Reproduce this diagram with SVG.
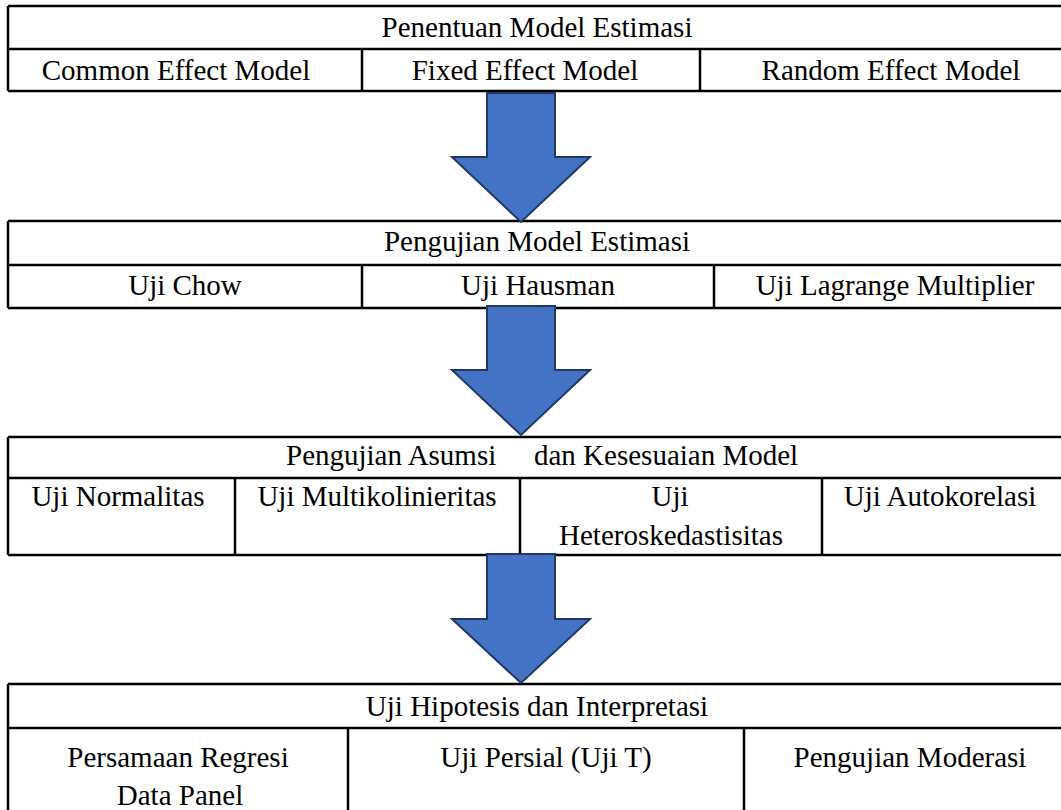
<svg xmlns="http://www.w3.org/2000/svg" width="1061" height="810" viewBox="0 0 1061 810">
<style>
.b{fill:none;stroke:#000;stroke-width:2.5}
.t{font-family:"Liberation Serif","Times New Roman",serif;font-size:29px;fill:#000;text-anchor:middle}
.a{fill:#4472C4;stroke:#1F3864;stroke-width:2;stroke-linejoin:miter}
</style>
<rect width="1061" height="810" fill="#fff"/>
<g id="table1">
<path class="b" d="M8,6H1066M8,49H1066M8,91H1066M8,6V91M362,49V91M700,49V91"/>
<text class="t" x="537" y="37">Penentuan Model Estimasi</text>
<text class="t" x="176" y="80">Common Effect Model</text>
<text class="t" x="525" y="80">Fixed Effect Model</text>
<text class="t" x="891" y="80">Random Effect Model</text>
</g>
<g id="table2">
<path class="b" d="M8,221H1066M8,265H1066M8,308H1066M8,221V308M362,265V308M714,265V308"/>
<text class="t" x="537" y="251">Pengujian Model Estimasi</text>
<text class="t" x="185" y="295">Uji Chow</text>
<text class="t" x="538" y="295">Uji Hausman</text>
<text class="t" x="895" y="295">Uji Lagrange Multiplier</text>
</g>
<g id="table3">
<path class="b" d="M8,437H1066M8,478H1066M8,555H1066M8,437V555M235,478V555M520,478V555M822,478V555"/>
<text class="t" style="text-anchor:start"><tspan x="286" y="465">Pengujian Asumsi</tspan><tspan x="534" y="465">dan Kesesuaian Model</tspan></text>
<text class="t" x="118" y="506">Uji Normalitas</text>
<text class="t" x="377" y="506">Uji Multikolinieritas</text>
<text class="t" x="670" y="506">Uji</text>
<text class="t" x="671" y="545">Heteroskedastisitas</text>
<text class="t" x="940" y="506">Uji Autokorelasi</text>
</g>
<g id="table4">
<path class="b" d="M8,684H1066M8,728H1066M8,684V812M348,728V812M744,728V812"/>
<text class="t" x="537" y="716">Uji Hipotesis dan Interpretasi</text>
<text class="t" x="178" y="767">Persamaan Regresi</text>
<text class="t" x="180" y="805">Data Panel</text>
<text class="t" x="546" y="767">Uji Persial (Uji T)</text>
<text class="t" x="910" y="767">Pengujian Moderasi</text>
</g>
<g id="connectors">
<path class="a" d="M487,93H555V157H590L521,222L452,157H487Z"/>
<path class="a" d="M487,306H555V370H590L521,435L452,370H487Z"/>
<path class="a" d="M487,554H555V619H590L521,683L452,619H487Z"/>
</g>
</svg>
